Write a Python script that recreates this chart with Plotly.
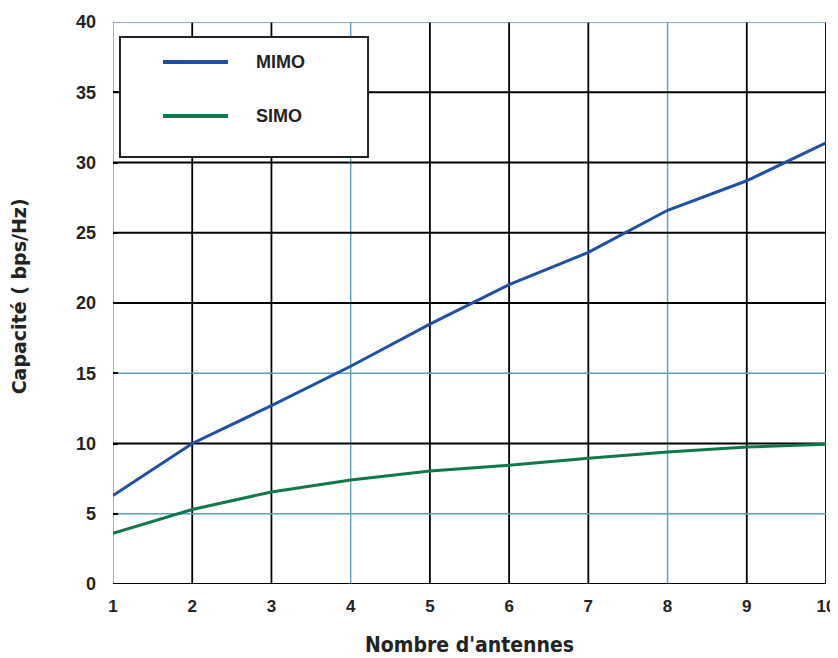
import plotly.graph_objects as go

antennas = [1, 2, 3, 4, 5, 6, 7, 8, 9, 10]
mimo = [6.3, 10.0, 12.7, 15.5, 18.5, 21.3, 23.6, 26.6, 28.7, 31.4]
simo = [3.6, 5.3, 6.55, 7.4, 8.05, 8.45, 8.95, 9.4, 9.75, 9.95]
series_names = ["MIMO", "SIMO"]
series_colors = ["#1d50a6", "#10784a"]

x_ticks = [1, 2, 3, 4, 5, 6, 7, 8, 9, 10]
x_grid_colors = ["#5b9fba", "black", "black", "#5b9fba", "black", "black", "black", "#5b9fba", "black", "black"]
y_ticks = [0, 5, 10, 15, 20, 25, 30, 35, 40]
y_grid_colors = ["black", "#5b9fba", "black", "#5b9fba", "black", "black", "black", "black", "#5b9fba"]

font_family = "Liberation Sans, Arial, sans-serif"
narrow_family = "DejaVu Sans Condensed, Liberation Sans, sans-serif"
wide_family = "DejaVu Sans, Liberation Sans, sans-serif"

fig = go.Figure()
for name, ys, col in zip(series_names, [mimo, simo], series_colors):
    fig.add_trace(go.Scatter(x=antennas, y=ys, mode="lines", name=name,
                             line=dict(color=col, width=3), showlegend=False))

shapes = []
for xv, c in zip(x_ticks, x_grid_colors):
    shapes.append(dict(type="line", xref="x", yref="paper", x0=xv, x1=xv, y0=0, y1=1,
                       line=dict(color=c, width=1.8 if c == "black" else 1.4), layer="below"))
for yv, c in zip(y_ticks, y_grid_colors):
    shapes.append(dict(type="line", xref="paper", yref="y", x0=0, x1=1, y0=yv, y1=yv,
                       line=dict(color=c, width=1.8 if c == "black" else 1.4), layer="below"))

# manual legend box
shapes.append(dict(type="rect", xref="paper", yref="paper", x0=0.0098, x1=0.3577,
                   y0=0.7598, y1=0.9733, fillcolor="white",
                   line=dict(color="#222222", width=2), layer="above"))
legend_y = [0.9288, 0.8327]
annotations = []
for name, col, ly in zip(series_names, series_colors, legend_y):
    shapes.append(dict(type="line", xref="paper", yref="paper", x0=0.0701, x1=0.1613,
                       y0=ly, y1=ly, line=dict(color=col, width=4), layer="above"))
    annotations.append(dict(xref="paper", yref="paper", x=0.198, y=ly, text="<b>" + name + "</b>",
                            showarrow=False, xanchor="left", yanchor="middle",
                            font=dict(family=font_family, size=18, color="#222222")))

fig.update_layout(
    width=830, height=650,
    margin=dict(l=105, r=12, t=14, b=74),
    paper_bgcolor="white", plot_bgcolor="white",
    font=dict(family=font_family, size=17, color="#222222"),
    shapes=shapes, annotations=annotations,
    xaxis=dict(range=[1, 10], tickvals=x_ticks, showgrid=False, zeroline=False,
               showline=False, ticks="", ticklabelstandoff=10, automargin=False,
               tickfont=dict(family=font_family, size=17, weight="bold"),
               title=dict(text="<b>Nombre d'antennes</b>", standoff=22,
                          font=dict(family=narrow_family, size=21))),
    yaxis=dict(range=[0, 40], tickvals=y_ticks, showgrid=False, zeroline=False,
               showline=False, ticks="inside", ticklen=5, tickcolor="black", tickwidth=2,
               ticklabelstandoff=16, automargin=False,
               tickfont=dict(family=font_family, size=18, weight="bold"),
               title=dict(text="<b>&nbsp;&nbsp;Capacité ( bps/Hz)</b>", standoff=46,
                          font=dict(family=wide_family, size=19))),
)

fig.write_html("out.html")
